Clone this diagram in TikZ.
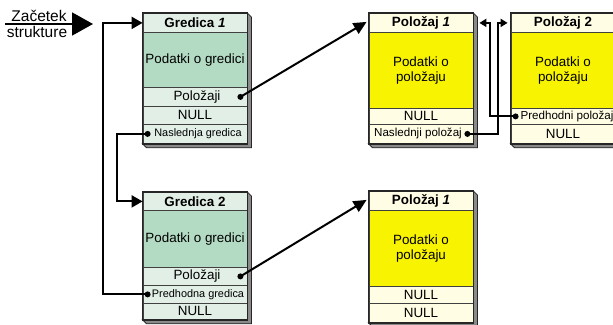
\documentclass[tikz,border=0pt]{standalone}
\usepackage{fontspec}
\setmainfont{Liberation Sans}
\usetikzlibrary{arrows.meta,calc}
\definecolor{gl}{HTML}{E2EFE6}
\definecolor{gm}{HTML}{B3DBC3}
\definecolor{yl}{HTML}{FFFDE4}
\definecolor{ym}{HTML}{F8F300}
\definecolor{sh}{HTML}{8A8A8A}
\newcommand\mainsize{\fontsize{13.4}{14.8}\selectfont}
\newcommand\smallsize{\fontsize{10.9}{12}\selectfont}
\newcommand\midsize{\fontsize{11.6}{12.5}\selectfont}
\newcommand\boxshadow[2]{%
  \filldraw[fill=sh,draw=black!85,line width=0.8] (#1.north east) -- ++(4,4) -- ([shift={(4,4)}]#2.south east) -- ([shift={(4,4)}]#2.south west) -- (#2.south west) -- (#2.south east) -- cycle;}
\newcommand\boxborder[2]{%
  \draw[line width=1.4,black!85] (#1.north west) rectangle (#2.south east);}
\tikzset{
  cellrow/.style={draw=black!75, line width=0.8, minimum width=104, inner sep=0, anchor=north, font=\mainsize, align=center},
  grrow/.style={cellrow, fill=gl},
  gdat/.style={cellrow, fill=gm},
  prow/.style={cellrow, fill=yl},
  pdat/.style={cellrow, fill=ym},
  link/.style={line width=2, black},
  dotfill/.style={fill=black},
}
\begin{document}
\begin{tikzpicture}[x=1pt,y=-1pt]
\useasboundingbox (0,0) rectangle (613,324);
% Gredica 1
\node[grrow, minimum height=19] (g1h) at (195,13) {\textbf{Gredica \textit{1}}};
\node[gdat, minimum height=55] (g1d) at (195,32) {Podatki o gredici};
\node[grrow, minimum height=19] (g1p) at (195,87) {\hspace{4pt}Položaji};
\node[grrow, minimum height=18] (g1n) at (195,106) {NULL};
\node[grrow, minimum height=19, font=\smallsize] (g1s) at (195,124) {\hspace{6pt}Naslednja gredica};
% Gredica 2
\node[grrow, minimum height=18] (g2h) at (195,192) {\textbf{Gredica 2}};
\node[gdat, minimum height=57] (g2d) at (195,210) {Podatki o gredici};
\node[grrow, minimum height=18] (g2p) at (195,267) {\hspace{4pt}Položaji};
\node[grrow, minimum height=18, font=\smallsize] (g2r) at (195,285) {\hspace{6pt}Predhodna gredica};
\node[grrow, minimum height=16] (g2n) at (195,303) {NULL};
% Polozaj 1 (top)
\node[prow, minimum height=19] (p1h) at (421,13) {\textbf{Položaj \textit{1}}};
\node[pdat, minimum height=76] (p1d) at (421,32) {Podatki o\\položaju};
\node[prow, minimum height=16] (p1n) at (421,108) {NULL};
\node[prow, minimum height=19, font=\midsize] (p1s) at (421,124) {Naslednji položaj\hspace{6pt}};
% Polozaj 2
\node[prow, minimum height=19] (p2h) at (563,13) {\textbf{Položaj 2}};
\node[pdat, minimum height=76] (p2d) at (563,32) {Podatki o\\položaju};
\node[prow, minimum height=16, font=\midsize] (p2r) at (563,108) {\hspace{8pt}Predhodni položaj};
\node[prow, minimum height=19] (p2n) at (563,124) {NULL};
% Polozaj 1 (bottom)
\node[prow, minimum height=19] (p3h) at (421,191) {\textbf{Položaj \textit{1}}};
\node[pdat, minimum height=76] (p3d) at (421,210) {Podatki o\\položaju};
\node[prow, minimum height=17] (p3n) at (421,286) {NULL};
\node[prow, minimum height=19] (p3m) at (421,303) {NULL};
% shadows and borders
\boxshadow{g1h}{g1s}\boxborder{g1h}{g1s}
\boxshadow{g2h}{g2n}\boxborder{g2h}{g2n}
\boxshadow{p1h}{p1s}\boxborder{p1h}{p1s}
\boxshadow{p2h}{p2n}\boxborder{p2h}{p2n}
\boxshadow{p3h}{p3m}\boxborder{p3h}{p3m}
% start label
\node[font=\fontsize{15.5}{16}\selectfont, anchor=base, inner sep=0] (zt) at (39,21) {Začetek};
\node[font=\fontsize{15.5}{16}\selectfont, anchor=base, inner sep=0] (sk) at (37,37) {strukture};
\coordinate (s0) at (5,24);
\coordinate (s1) at (93,24);
\draw[line width=1.8, -{Triangle[length=21,width=23]}] (s0) -- (s1);
% dots
\coordinate (g1pd) at ([xshift=-7]g1p.east);
\coordinate (g1sd) at ([xshift=5]g1s.west);
\coordinate (g2pd) at ([xshift=-7]g2p.east);
\coordinate (g2rd) at ([xshift=5]g2r.west);
\coordinate (p1sd) at ([xshift=-6]p1s.east);
\coordinate (p2rd) at ([xshift=5]p2r.west);
% connectors
\draw[link, -{Triangle[length=11,width=12]}] (g2rd) -| ([xshift=-40]g1h.west) -- (g1h.west);
\draw[link, -{Triangle[length=11,width=12]}] (g1sd) -| ([xshift=-26]g2h.west) -- (g2h.west);
\draw[link, -{Triangle[length=13,width=12]}] (g1pd) -- ([shift={(-2,-1)}]p1h.west);
\draw[link, -{Triangle[length=13,width=12]}] (g2pd) -- ([shift={(-2,-1)}]p3h.west);
\draw[link, -{Triangle[length=7,width=8]}] (p1sd) -| ([xshift=-13]p2h.west) -- ([xshift=-3]p2h.west);
\draw[link, -{Triangle[length=7,width=8]}] (p2rd) -| ([xshift=17]p1h.east) -- ([xshift=6]p1h.east);
\foreach \d in {g1pd,g1sd,g2pd,g2rd,p1sd,p2rd} \fill[dotfill] (\d) circle (3);
\end{tikzpicture}
\end{document}
